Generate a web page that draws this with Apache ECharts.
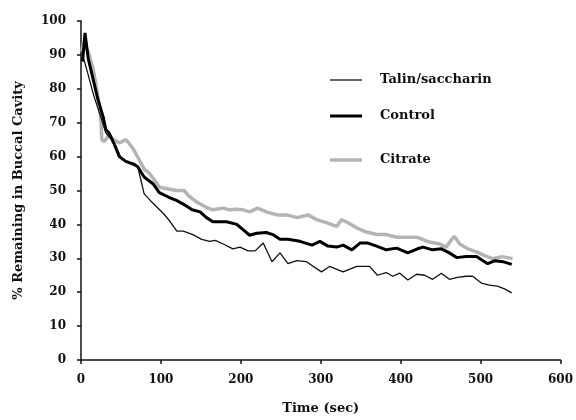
<!DOCTYPE html>
<html>
<head>
<meta charset="utf-8">
<script src="https://cdn.jsdelivr.net/npm/echarts@6/dist/echarts.min.js"></script>
<style>
  html, body { margin: 0; padding: 0; background: #fff; }
  #chart { width: 576px; height: 420px; }
</style>
</head>
<body>
<div id="chart"></div>
<script>
// values (time in sec, % remaining)
const talinTime = [2, 8, 16, 25, 31, 38, 44, 50, 60, 71, 79, 87, 104, 111, 120, 128, 140, 151, 161, 168, 180, 190, 199, 209, 218, 228, 239, 249, 259, 270, 282, 301, 311, 328, 345, 361, 371, 382, 390, 399, 409, 420, 430, 440, 451, 461, 471, 482, 490, 501, 511, 521, 530, 539]
const talinValue = [90, 85, 78, 71.5, 67, 65, 63, 59.5, 58, 57, 49, 47, 43, 41, 38, 38, 37, 35.6, 35, 35.3, 34, 32.8, 33.3, 32.2, 32.2, 34.5, 29, 31.6, 28.4, 29.3, 29, 26, 27.6, 26, 27.6, 27.6, 25, 25.8, 24.7, 25.6, 23.6, 25.3, 25, 23.8, 25.6, 23.8, 24.4, 24.7, 24.7, 22.7, 22.1, 21.8, 21, 19.8]

const controlTime = [2, 5, 9, 15, 21, 28, 31, 35, 41, 48, 56, 66, 71, 79, 90, 98, 110, 120, 130, 139, 149, 157, 165, 174, 182, 195, 205, 211, 220, 232, 240, 249, 259, 274, 289, 299, 309, 320, 328, 339, 349, 359, 370, 382, 395, 409, 421, 428, 440, 451, 461, 470, 482, 495, 503, 509, 518, 528, 539]
const controlValue = [88, 96.5, 89, 83, 77, 71.5, 68, 67, 64, 60, 58.6, 57.8, 57, 54, 52, 49.4, 48, 47, 45.7, 44.3, 43.7, 42, 40.8, 40.8, 40.8, 40, 38, 36.8, 37.4, 37.6, 37, 35.6, 35.6, 35, 33.9, 35, 33.6, 33.3, 33.9, 32.5, 34.5, 34.5, 33.6, 32.5, 33, 31.6, 32.8, 33.3, 32.5, 32.8, 31.6, 30.2, 30.5, 30.5, 29.3, 28.4, 29.3, 29, 28.2]

const citrateTime = [1, 3, 9, 15, 19, 23, 25, 26, 29, 35, 41, 48, 56, 60, 66, 73, 79, 85, 91, 98, 106, 119, 129, 134, 145, 157, 165, 178, 186, 195, 203, 211, 221, 232, 245, 257, 271, 284, 295, 307, 320, 326, 334, 345, 355, 370, 382, 395, 407, 421, 436, 449, 457, 464, 467, 474, 484, 495, 505, 515, 527, 540]
const citrateValue = [91, 93.7, 91, 86, 81, 75, 70.7, 65, 64.4, 66.4, 65, 64, 65, 64, 62, 59, 56.3, 55.2, 53.4, 51, 50.6, 50, 50, 48.6, 46.6, 45, 44.3, 44.8, 44.3, 44.5, 44.3, 43.7, 44.8, 43.7, 42.8, 42.8, 42, 42.8, 41.4, 40.5, 39.4, 41.4, 40.5, 39, 37.9, 37, 37, 36.2, 36.2, 36.2, 34.8, 34.2, 33.3, 35.6, 36.5, 34.2, 32.8, 31.9, 30.8, 29.9, 30.5, 29.9]

const seriesNames = ['Talin/saccharin', 'Control', 'Citrate']
const lineColors = ['#111', '#000', '#b4b4b4']
const lineWidths = [1.3, 3, 3.5]

function pairs(ts, vs) {
  return ts.map((t, i) => [t, vs[i]])
}

const font = 'DejaVu Serif'

// one legend per series so every key line gets its own thickness
const legendTops = [75, 111, 155]
const legends = seriesNames.map((name, i) => ({
  data: [name],
  left: 325,
  top: legendTops[i] - 8,
  icon: 'rect',
  itemWidth: 32,
  itemHeight: lineWidths[i],
  textStyle: {
    fontFamily: font,
    fontWeight: 'bold',
    fontSize: 13,
    color: '#111',
    padding: [0, 0, 0, 13],
    lineHeight: 16
  }
}))

const myChart = echarts.init(document.getElementById('chart'))
myChart.setOption({
  animation: false,
  backgroundColor: '#fff',
  grid: {
    left: 81,
    right: 15,
    top: 21,
    bottom: 51
  },
  legend: legends,
  xAxis: {
    type: 'value',
    min: 0,
    max: 600,
    interval: 100,
    name: 'Time (sec)',
    nameLocation: 'middle',
    nameGap: 42,
    nameTextStyle: { fontFamily: font, fontWeight: 'bold', fontSize: 13, color: '#111' },
    axisLine: { lineStyle: { color: '#111', width: 1.5 } },
    axisTick: { show: true, length: 4, lineStyle: { color: '#111', width: 1.5 } },
    axisLabel: { margin: 14, fontFamily: font, fontWeight: 'bold', fontSize: 12, color: '#111' },
    splitLine: { show: false }
  },
  yAxis: {
    type: 'value',
    min: 0,
    max: 100,
    interval: 10,
    name: '% Remaining in Buccal Cavity',
    nameLocation: 'middle',
    nameGap: 56,
    nameTextStyle: { fontFamily: font, fontWeight: 'bold', fontSize: 13, color: '#111' },
    axisLine: { show: true, lineStyle: { color: '#111', width: 1.5 } },
    axisTick: { show: true, length: 4, lineStyle: { color: '#111', width: 1.5 } },
    axisLabel: { margin: 15, fontFamily: font, fontWeight: 'bold', fontSize: 12, color: '#111' },
    splitLine: { show: false }
  },
  series: [{
    name: seriesNames[0],
    type: 'line',
    symbol: 'none',
    z: 4,
    data: pairs(talinTime, talinValue),
    lineStyle: { color: lineColors[0], width: lineWidths[0] },
    itemStyle: { color: lineColors[0] }
  }, {
    name: seriesNames[1],
    type: 'line',
    symbol: 'none',
    z: 3,
    data: pairs(controlTime, controlValue),
    lineStyle: { color: lineColors[1], width: lineWidths[1] },
    itemStyle: { color: lineColors[1] }
  }, {
    name: seriesNames[2],
    type: 'line',
    symbol: 'none',
    z: 2,
    data: pairs(citrateTime, citrateValue),
    lineStyle: { color: lineColors[2], width: lineWidths[2] },
    itemStyle: { color: lineColors[2] }
  }]
})
</script>
</body>
</html>
